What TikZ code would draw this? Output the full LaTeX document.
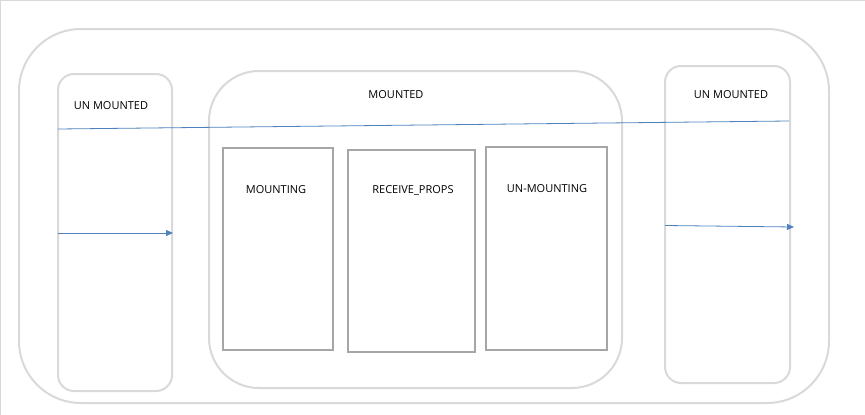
\documentclass[tikz,border=0pt]{standalone}
\usepackage{fontspec}
\setmainfont{Open Sans}
\usetikzlibrary{arrows.meta}

\definecolor{framegray}{HTML}{D9D9D9}
\definecolor{boxgray}{HTML}{A6A6A6}
\definecolor{lineblue}{HTML}{4F81BD}

\begin{document}
\begin{tikzpicture}[x=1pt,y=-1pt,
    state/.style={line width=2pt,draw=framegray},
    phase/.style={line width=2.6pt,draw=boxgray},
    label/.style={font=\fontsize{11}{13}\selectfont,inner sep=0pt},
    flow/.style={lineblue,line width=0.8pt}]
    \useasboundingbox (0,0) rectangle (865,415);

    % Screen edges
    \draw[framegray,line width=1pt] (0.5,415) -- (0.5,0.5) -- (865,0.5);

    % Calculate the coordinates of the corners
    \coordinate (O1) at (19,29);
    \coordinate (O2) at (829,403);
    \coordinate (L1) at (58,74);
    \coordinate (L2) at (172,391);
    \coordinate (M1) at (209,71);
    \coordinate (M2) at (622,388);
    \coordinate (R1) at (665,66);
    \coordinate (R2) at (790,383);

    % Draw the rounded states
    \draw[state,rounded corners=62pt] (O1) rectangle (O2);
    \draw[state,rounded corners=16pt] (L1) rectangle (L2);
    \draw[state,rounded corners=50pt] (M1) rectangle (M2);
    \draw[state,rounded corners=16pt] (R1) rectangle (R2);

    % Draw the phases
    \draw[phase] (223,148) rectangle (333,350);
    \draw[phase] (348,150) rectangle (475,352);
    \draw[phase] (486,147) rectangle (607,350);

    % Creates labels
    \node[label] (unleft) at (111,106) {UN MOUNTED};
    \node[label] (mounted) at (396,95) {MOUNTED};
    \node[label] (unright) at (731,95) {UN MOUNTED};
    \node[label] (mounting) at (276,190) {MOUNTING};
    \node[label] (receive) at (413,190) {RECEIVE\_PROPS};
    \node[label] (unmounting) at (547,189) {UN-MOUNTING};

    % Draw lines
    \coordinate (tstart) at (58,129);
    \coordinate (tend) at (789,121);
    \coordinate (astart) at (58,233);
    \coordinate (aend) at (173,233);
    \coordinate (bstart) at (665,225.5);
    \coordinate (bend) at (794,227);
    \draw[flow] (tstart) -- (tend);
    \draw[flow,-{Triangle[length=7pt,width=6pt]}] (astart) -- (aend);
    \draw[flow,-{Triangle[length=7pt,width=6pt]}] (bstart) -- (bend);

\end{tikzpicture}
\end{document}
